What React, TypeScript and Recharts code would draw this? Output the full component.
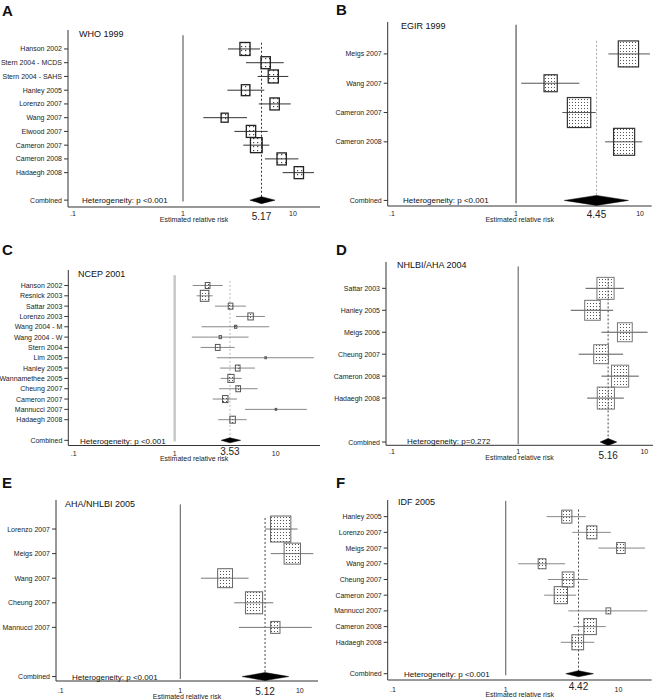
import { ScatterChart, Scatter, XAxis, YAxis, ReferenceLine } from "recharts";

// ---- data ----
const whoStudies = ["Hanson 2002", "Stern 2004 - MCDS", "Stern 2004 - SAHS", "Hanley 2005", "Lorenzo 2007", "Wang 2007", "Elwood 2007", "Cameron 2007", "Cameron 2008", "Hadaegh 2008"];
const whoRR = [3.66, 5.64, 6.62, 3.71, 6.81, 2.39, 4.15, 4.64, 7.89, 11.3];
const whoLo = [2.56, 3.74, 4.77, 2.53, 4.88, 1.53, 2.93, 3.53, 5.56, 8.05];
const whoHi = [5.01, 8.23, 9.06, 5.48, 9.53, 3.82, 5.89, 6.09, 11.2, 15.5];
const whoWeight = [11.4, 9.7, 11.4, 8.1, 9.7, 5.5, 9.7, 15.2, 9.7, 9.7];
const whoCombined = [4.06, 5.17, 6.86];

const egirStudies = ["Meigs 2007", "Wang 2007", "Cameron 2007", "Cameron 2008"];
const egirRR = [8.05, 1.9, 3.22, 7.43];
const egirLo = [5.55, 1.1, 2.36, 5.22];
const egirHi = [12.0, 3.24, 4.39, 10.4];
const egirWeight = [26.1, 11.1, 34.7, 28.1];
const egirCombined = [2.45, 4.45, 8.05];

const ncepStudies = ["Hanson 2002", "Resnick 2003", "Sattar 2003", "Lorenzo 2003", "Wang 2004 - M", "Wang 2004 - W", "Stern 2004", "Lim 2005", "Hanley 2005", "Wannamethee 2005", "Cheung 2007", "Cameron 2007", "Mannucci 2007", "Hadaegh 2008"];
const ncepRR = [2.12, 1.98, 3.58, 5.65, 4.02, 2.83, 2.67, 7.96, 4.21, 3.61, 4.26, 3.17, 10.07, 3.75];
const ncepLo = [1.51, 1.65, 2.51, 4.05, 1.85, 1.48, 1.81, 2.61, 2.81, 2.85, 2.75, 2.38, 4.97, 2.7];
const ncepHi = [2.99, 2.38, 5.08, 7.84, 8.65, 5.4, 3.93, 23.9, 6.24, 4.61, 6.63, 4.14, 20.4, 5.16];
const ncepWeight = [6.7, 22.5, 6.7, 9.1, 1.7, 1.7, 6.7, 0.7, 6.7, 11.9, 6.7, 9.1, 0.7, 9.1];
const ncepCombined = [2.89, 3.53, 4.5];

const nhlbiStudies = ["Sattar 2003", "Hanley 2005", "Meigs 2006", "Cheung 2007", "Cameron 2008", "Hadaegh 2008"];
const nhlbiRR = [4.92, 3.88, 7.0, 4.54, 6.42, 4.95];
const nhlbiLo = [3.42, 2.61, 4.57, 3.02, 4.57, 3.52];
const nhlbiHi = [6.87, 5.65, 10.6, 6.78, 9.03, 6.87];
const nhlbiWeight = [18.8, 15.5, 14.0, 14.0, 18.8, 18.8];
const nhlbiCombined = [4.46, 5.16, 6.04];

const ahaStudies = ["Lorenzo 2007", "Meigs 2007", "Wang 2007", "Cheung 2007", "Mannucci 2007"];
const ahaRR = [6.92, 8.65, 2.37, 4.14, 6.24];
const ahaLo = [5.11, 5.71, 1.49, 2.83, 3.1];
const ahaHi = [9.6, 12.97, 3.73, 6.0, 12.6];
const ahaWeight = [32.1, 20.9, 17.1, 23.0, 6.8];
const ahaCombined = [3.3, 5.12, 8.07];

const idfStudies = ["Hanley 2005", "Lorenzo 2007", "Meigs 2007", "Wang 2007", "Cheung 2007", "Cameron 2007", "Mannucci 2007", "Cameron 2008", "Hadaegh 2008"];
const idfRR = [3.48, 5.8, 10.5, 2.1, 3.57, 3.08, 8.13, 5.6, 4.35];
const idfLo = [2.31, 3.9, 6.63, 1.29, 2.36, 2.19, 3.59, 3.98, 3.08];
const idfHi = [5.13, 8.55, 17.2, 3.36, 5.34, 4.21, 18.0, 7.71, 6.11];
const idfWeight = [10.6, 10.6, 7.6, 6.3, 14.2, 18.2, 2.3, 16.1, 14.2];
const idfCombined = [3.41, 4.42, 5.99];

const xTicks = [0.1, 1, 10];

const FONT = '"Liberation Sans", Arial, Helvetica, sans-serif';

type Panel = {
  letter: string;
  title: string;
  het: string;
  studies: string[];
  rr: number[];
  lo: number[];
  hi: number[];
  weight: number[];
  combined: number[];
};

type Layout = {
  left: number;
  width: number;
  plotLeft: number;
  plotRight: number;
  plotTop: number;
  plotBottom: number;
  xDomain: [number, number];
  yDomain: [number, number];
  boxK: number;
  diamondH: number;
  tickBase: number;
  estBase: number;
  labelBase: number;
  ciStroke: string;
  boxStroke: string;
  boxStrokeW: number;
  oneStroke: string;
  oneWidth: number;
  dashStroke: string;
  pattern: string;
  letterPos: [number, number];
  titlePos: [number, number];
  hetPos: [number, number];
};

const panels: Panel[] = [
  { letter: "A", title: "WHO 1999", het: "Heterogeneity: p <0.001", studies: whoStudies, rr: whoRR, lo: whoLo, hi: whoHi, weight: whoWeight, combined: whoCombined },
  { letter: "B", title: "EGIR 1999", het: "Heterogeneity: p <0.001", studies: egirStudies, rr: egirRR, lo: egirLo, hi: egirHi, weight: egirWeight, combined: egirCombined },
  { letter: "C", title: "NCEP 2001", het: "Heterogeneity: p <0.001", studies: ncepStudies, rr: ncepRR, lo: ncepLo, hi: ncepHi, weight: ncepWeight, combined: ncepCombined },
  { letter: "D", title: "NHLBI/AHA 2004", het: "Heterogeneity: p=0.272", studies: nhlbiStudies, rr: nhlbiRR, lo: nhlbiLo, hi: nhlbiHi, weight: nhlbiWeight, combined: nhlbiCombined },
  { letter: "E", title: "AHA/NHLBI 2005", het: "Heterogeneity: p <0.001", studies: ahaStudies, rr: ahaRR, lo: ahaLo, hi: ahaHi, weight: ahaWeight, combined: ahaCombined },
  { letter: "F", title: "IDF 2005", het: "Heterogeneity: p <0.001", studies: idfStudies, rr: idfRR, lo: idfLo, hi: idfHi, weight: idfWeight, combined: idfCombined },
];

const layouts: Layout[] = [
  { left: 0, width: 325, plotLeft: 68, plotRight: 320, plotTop: 30, plotBottom: 207, xDomain: [0.09, 17.6], yDomain: [-1.38, 11.5], boxK: 3.85, diamondH: 3.5, tickBase: 8.5, estBase: 13, labelBase: 15, ciStroke: "#333", boxStroke: "#222", boxStrokeW: 1.3, oneStroke: "#444", oneWidth: 1, dashStroke: "#333", pattern: "dotsWide", letterPos: [2, 16], titlePos: [79, 37], hetPos: [82, 203] },
  { left: 325, width: 330, plotLeft: 387.7, plotRight: 651.7, plotTop: 22, plotBottom: 206, xDomain: [0.0923, 12.4], yDomain: [-1.09, 5.19], boxK: 5.09, diamondH: 5, tickBase: 9.5, estBase: 11.5, labelBase: 16, ciStroke: "#555", boxStroke: "#333", boxStrokeW: 1.2, oneStroke: "#555", oneWidth: 1.2, dashStroke: "#aaa", pattern: "dots", letterPos: [336, 15], titlePos: [401, 29], hetPos: [403, 203] },
  { left: 0, width: 325, plotLeft: 68.3, plotRight: 320, plotTop: 270, plotBottom: 445.5, xDomain: [0.0885, 27.5], yDomain: [-1.5, 15.5], boxK: 2.32, diamondH: 2.5, tickBase: 10, estBase: 9.5, labelBase: 15, ciStroke: "#888", boxStroke: "#555", boxStrokeW: 1, oneStroke: "#c8c8c8", oneWidth: 2.5, dashStroke: "#bbb", pattern: "dots", letterPos: [2, 255], titlePos: [78, 277], hetPos: [80, 444] },
  { left: 325, width: 330, plotLeft: 386, plotRight: 653, plotTop: 261.7, plotBottom: 445, xDomain: [0.0897, 11.7], yDomain: [-1.2, 7.15], boxK: 5.07, diamondH: 3.5, tickBase: 8.5, estBase: 14, labelBase: 15, ciStroke: "#555", boxStroke: "#777", boxStrokeW: 1, oneStroke: "#555", oneWidth: 1, dashStroke: "#444", pattern: "dots", letterPos: [336, 255], titlePos: [397, 268], hetPos: [407, 444] },
  { left: 0, width: 325, plotLeft: 56, plotRight: 318, plotTop: 500, plotBottom: 681, xDomain: [0.0912, 14.2], yDomain: [-1.18, 6.18], boxK: 4.59, diamondH: 4, tickBase: 11.5, estBase: 14, labelBase: 18, ciStroke: "#777", boxStroke: "#666", boxStrokeW: 1, oneStroke: "#555", oneWidth: 1, dashStroke: "#444", pattern: "dots", letterPos: [2, 488], titlePos: [65, 507], hetPos: [72, 680] },
  { left: 325, width: 330, plotLeft: 387.7, plotRight: 651.7, plotTop: 500, plotBottom: 680, xDomain: [0.0897, 19.7], yDomain: [-1.06, 10.4], boxK: 3.99, diamondH: 3, tickBase: 12, estBase: 10, labelBase: 17, ciStroke: "#888", boxStroke: "#666", boxStrokeW: 1, oneStroke: "#555", oneWidth: 1, dashStroke: "#444", pattern: "dots", letterPos: [336, 488], titlePos: [398, 505], hetPos: [404, 677] },
];

const X_AXIS_H = 22;

function EmptyShape() {
  return <g />;
}

function ForestPanel({ p, s }: { p: Panel; s: Layout }) {
  const combRow = p.studies.length + 1;
  const chartTop = s.plotTop - 5;
  const height = s.plotBottom + X_AXIS_H - chartTop;
  const axisY = s.plotBottom - chartTop;
  const est = p.combined[1];

  const rows = p.studies.map((_, i) => ({ x: p.rr[i], y: i, w: p.weight[i] }));
  const diamond = p.combined.map((v) => ({ x: v, y: combRow }));
  const yTicks = [...p.studies.map((_, i) => i), combRow];

  const boxShape = (props: any) => {
    const { cx, cy, payload } = props;
    if (cx == null || cy == null) return <g />;
    const h = s.boxK * Math.sqrt(payload.w);
    const w = h * 0.78;
    return (
      <rect
        x={cx - w / 2}
        y={cy - h / 2}
        width={w}
        height={h}
        fill={`url(#${s.pattern})`}
        stroke={s.boxStroke}
        strokeWidth={s.boxStrokeW}
      />
    );
  };

  const diamondLine = (props: any) => {
    const pts = props.points || [];
    if (pts.length < 3) return <g />;
    const [a, b, c] = pts;
    const d = `M${a.x},${a.y} L${b.x},${b.y - s.diamondH} L${c.x},${c.y} L${b.x},${b.y + s.diamondH} Z`;
    return <path d={d} fill="#000" stroke="#000" strokeWidth={0.5} />;
  };

  const xTick = (props: any) => {
    const v = props.payload.value;
    const isEst = Math.abs(v - est) < 1e-9;
    const label = isEst ? v.toFixed(2) : v === 0.1 ? ".1" : String(v);
    return (
      <text
        x={props.x}
        y={axisY + (isEst ? s.estBase : s.tickBase)}
        textAnchor="middle"
        fontSize={isEst ? 10 : 7}
        fill="#222"
      >
        {label}
      </text>
    );
  };

  const yTick = (props: any) => {
    const i = Math.round(props.payload.value);
    const label = i === combRow ? "Combined" : p.studies[i] ?? "";
    return (
      <text x={props.x} y={props.y} dy={2.5} textAnchor="end" fontSize={7} fill="#222">
        {label}
      </text>
    );
  };

  return (
    <div style={{ position: "absolute", left: s.left, top: chartTop }}>
      <ScatterChart
        width={s.width}
        height={height}
        margin={{ top: 5, right: s.left + s.width - s.plotRight, bottom: 0, left: 0 }}
      >
        <XAxis
          type="number"
          dataKey="x"
          scale="log"
          domain={s.xDomain}
          allowDataOverflow
          ticks={[...xTicks, est]}
          interval={0}
          tick={xTick}
          tickLine={false}
          axisLine={{ stroke: "#333" }}
          height={X_AXIS_H}
          label={{
            value: "Estimated relative risk",
            position: "insideBottom",
            offset: X_AXIS_H - s.labelBase,
            fontSize: 7,
            fill: "#222",
          }}
        />
        <YAxis
          type="number"
          dataKey="y"
          domain={s.yDomain}
          allowDataOverflow
          reversed
          ticks={yTicks}
          interval={0}
          width={s.plotLeft - s.left}
          tickSize={4}
          tickMargin={2}
          tick={yTick}
          tickLine={{ stroke: "#333" }}
          axisLine={{ stroke: "#333" }}
        />
        <ReferenceLine
          segment={[{ x: 1, y: -1 }, { x: 1, y: combRow + 0.1 }]}
          stroke={s.oneStroke}
          strokeWidth={s.oneWidth}
          ifOverflow="visible"
        />
        <ReferenceLine
          segment={[{ x: est, y: -0.45 }, { x: est, y: combRow }]}
          stroke={s.dashStroke}
          strokeDasharray="2 2"
          ifOverflow="visible"
        />
        {p.studies.map((name, i) => (
          <ReferenceLine
            key={name + i}
            segment={[{ x: p.lo[i], y: i }, { x: p.hi[i], y: i }]}
            stroke={s.ciStroke}
            strokeWidth={1}
            ifOverflow="visible"
          />
        ))}
        <Scatter data={rows} shape={boxShape} isAnimationActive={false} />
        <Scatter
          data={diamond}
          shape={EmptyShape}
          line={diamondLine}
          isAnimationActive={false}
        />
      </ScatterChart>
    </div>
  );
}

export default function App() {
  return (
    <div
      style={{
        position: "absolute",
        left: 0,
        top: 0,
        width: 655,
        height: 700,
        background: "#fff",
        fontFamily: FONT,
        overflow: "hidden",
      }}
    >
      <svg width={0} height={0} style={{ position: "absolute" }}>
        <defs>
          <pattern id="dots" width={3} height={3} patternUnits="userSpaceOnUse">
            <rect x={1} y={1} width={1} height={1} fill="#555" />
          </pattern>
          <pattern id="dotsWide" width={4} height={4} patternUnits="userSpaceOnUse">
            <rect x={1} y={1} width={1.2} height={1.2} fill="#444" />
          </pattern>
        </defs>
      </svg>
      {panels.map((p, i) => (
        <ForestPanel key={p.letter} p={p} s={layouts[i]} />
      ))}
      <svg
        width={655}
        height={700}
        style={{ position: "absolute", left: 0, top: 0, pointerEvents: "none" }}
      >
        {panels.map((p, i) => {
          const s = layouts[i];
          return (
            <g key={p.letter} fontFamily={FONT} fill="#111">
              <text x={s.letterPos[0]} y={s.letterPos[1]} fontSize={15} fontWeight="bold">
                {p.letter}
              </text>
              <text x={s.titlePos[0]} y={s.titlePos[1]} fontSize={9}>
                {p.title}
              </text>
              <text x={s.hetPos[0]} y={s.hetPos[1]} fontSize={8}>
                {p.het}
              </text>
            </g>
          );
        })}
      </svg>
    </div>
  );
}
